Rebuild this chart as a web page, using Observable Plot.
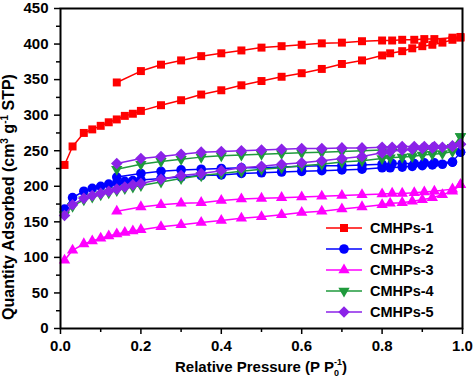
<!DOCTYPE html>
<html><head><meta charset="utf-8">
<script src="https://cdn.jsdelivr.net/npm/d3@7"></script>
<script src="https://cdn.jsdelivr.net/npm/@observablehq/plot@0.6"></script>
<style>
body{margin:0;background:#fff;}
#wrap{position:relative;width:474px;height:378px;font-family:"Liberation Sans",Arial,sans-serif;}
#legend{position:absolute;left:326px;top:217px;}
.row{display:flex;align-items:center;height:21px;}
.row span{font-weight:bold;font-size:14.5px;color:#000;margin-left:8px;}
</style></head><body><div id="wrap"><div id="legend"></div></div>
<script>
const seriesNames = ["CMHPs-1","CMHPs-2","CMHPs-3","CMHPs-4","CMHPs-5"];
const seriesColors = ["#ff0000","#0000ff","#ff00ff","#1f9a3c","#8b22e8"];
const seriesSymbols = ["square","circle","triangle","triangle","diamond2"];
const seriesRotate = [0,0,0,180,0];
const seriesR = [4.5,4.8,4.2,4.2,5.2];

const pAds = [0.01,0.03,0.058,0.079,0.1,0.12,0.14,0.16,0.18,0.2,0.25,0.3,0.35,0.4,0.45,0.5,0.55,0.6,0.65,0.7,0.75,0.8,0.82,0.85,0.875,0.9,0.925,0.95,0.975,0.995];
const pDes = [0.995,0.975,0.93,0.905,0.88,0.85,0.825,0.8,0.75,0.7,0.65,0.6,0.55,0.5,0.45,0.4,0.35,0.3,0.25,0.2,0.14];

const ads1 = [230,256,275,280,285,290,294,299,302,306,314,321,329,335,342,348,354,359,365,372,377,384,387,390,394,397,399,402,406,409];
const des1 = [410,409,407,407,406,406,405,405,404,402,401,399,397,395,391,387,383,377,371,362,346];
const ads2 = [168,184,193,197,200,203,205,207,208,209,211,213,215,216,218,219,220,221,222,223,224,226,226,227,228,229,230,231,234,248];
const des2 = [248,234,233,233,232,232,232,231,230,229,229,228,227,226,226,225,224,223,221,218,213];
const ads3 = [96,110,119,123,127,130,133,135,137,139,143,146,149,152,155,157,160,163,165,168,171,174,176,177,179,181,184,188,193,202];
const des3 = [202,196,193,192,191,190,190,189,188,187,186,185,184,183,182,180,177,176,174,171,165];
const ads4 = [160,172,181,185,188,191,194,197,199,201,206,211,215,218,221,224,226,229,231,234,236,239,240,241,242,244,245,246,249,270];
const des4 = [270,255,253,252,252,252,251,251,250,249,248,247,246,245,244,243,241,238,235,231,224];
const ads5 = [159,174,183,187,190,193,196,199,202,204,210,215,218,222,226,228,231,233,236,239,242,247,249,251,252,253,254,255,256,259];
const des5 = [259,257,256,256,256,256,255,255,254,254,253,253,252,251,250,249,248,245,242,239,232];

const xMajor = [0,0.2,0.4,0.6,0.8,1.0];
const xMinor = [0.1,0.3,0.5,0.7,0.9];
const yMajor = [0,50,100,150,200,250,300,350,400,450];
const yMinor = [25,75,125,175,225,275,325,375,425];

const adsAll = [ads1,ads2,ads3,ads4,ads5];
const desAll = [des1,des2,des3,des4,des5];

const marks = [];
seriesNames.forEach((name,i)=>{
  const rows = [];
  adsAll[i].forEach((v,j)=>rows.push({series:name,p:pAds[j],q:v}));
  desAll[i].forEach((v,j)=>rows.push({series:name,p:pDes[j],q:v}));
  marks.push(Plot.line(rows,{x:"p",y:"q",stroke:seriesColors[i],strokeWidth:1.5}));
  marks.push(Plot.dot(rows,{x:"p",y:"q",symbol:seriesSymbols[i],fill:seriesColors[i],r:seriesR[i],rotate:seriesRotate[i]}));
});

const chart = Plot.plot({
  width:474,height:378,
  marginLeft:60,marginRight:12,marginTop:8,marginBottom:50,
  style:{fontFamily:"'Liberation Sans',Arial,sans-serif",background:"transparent",overflow:"visible"},
  x:{domain:[0,1]},
  y:{domain:[0,450]},
  marks:[
    ...marks,
    Plot.axisX({ticks:xMajor,tickFormat:d=>d.toFixed(1),tickSize:6,tickPadding:6,strokeWidth:1.5,fontSize:15,fontWeight:"bold",label:null}),
    Plot.axisX({ticks:xMinor,tickFormat:()=>"",tickSize:4,strokeWidth:1.5,label:null}),
    Plot.axisY({ticks:yMajor,tickSize:6,tickPadding:6,strokeWidth:1.5,fontSize:15,fontWeight:"bold",label:null}),
    Plot.axisY({ticks:yMinor,tickFormat:()=>"",tickSize:4,strokeWidth:1.5,label:null}),
    Plot.frame({stroke:"#000",strokeWidth:2})
  ]
});
document.getElementById("wrap").prepend(chart);

const svg = d3.select(chart);
const yl = svg.append("text").attr("transform","translate(14,197) rotate(-90)")
  .attr("text-anchor","middle").attr("font-weight","bold").attr("font-size",16).attr("fill","#000");
yl.append("tspan").text("Quantity Adsorbed (cm");
yl.append("tspan").attr("dy",-6).attr("font-size",10).text("3");
yl.append("tspan").attr("dy",6).text(" g");
yl.append("tspan").attr("dy",-6).attr("font-size",10).text("-1");
yl.append("tspan").attr("dy",6).text(" STP)");

const xl = svg.append("text").attr("transform","translate(261,372)")
  .attr("text-anchor","middle").attr("font-weight","bold").attr("font-size",15).attr("fill","#000");
xl.append("tspan").text("Relative Pressure (P P");
xl.append("tspan").attr("dy",4).attr("font-size",9).text("0");
xl.append("tspan").attr("dy",-11).attr("dx",-5).attr("font-size",9).text("-1");
xl.append("tspan").attr("dy",7).text(")");

const leg = d3.select("#legend");
seriesNames.forEach((name,i)=>{
  const row = leg.append("div").attr("class","row");
  const s = row.append("svg").attr("width",36).attr("height",14);
  s.append("line").attr("x1",0).attr("x2",36).attr("y1",7).attr("y2",7).attr("stroke",seriesColors[i]).attr("stroke-width",1.5);
  const symMap = {square:d3.symbolSquare,circle:d3.symbolCircle,triangle:d3.symbolTriangle,diamond2:d3.symbolDiamond2};
  s.append("path").attr("d",d3.symbol(symMap[seriesSymbols[i]], Math.PI*seriesR[i]*seriesR[i])())
    .attr("transform",`translate(18,7) rotate(${seriesRotate[i]})`).attr("fill",seriesColors[i]);
  row.append("span").text(name);
});
</script></body></html>
